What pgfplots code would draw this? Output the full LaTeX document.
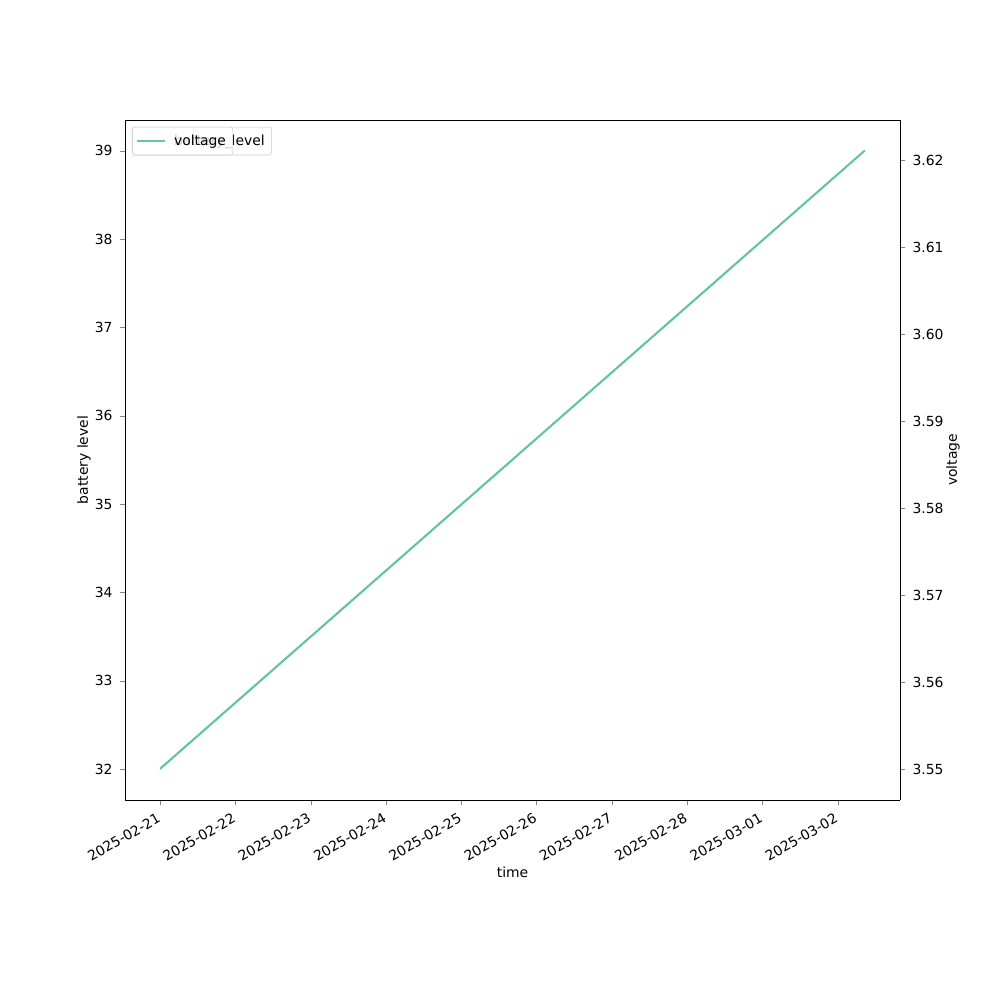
\documentclass[border=0pt]{standalone}
\usepackage{fontspec}
\setmainfont{DejaVu Sans}
\usepackage{pgfplots}
\pgfplotsset{compat=1.18}
\definecolor{sc}{HTML}{66C2A5}
\begin{document}
\begin{tikzpicture}
\path[use as bounding box] (0,0) rectangle (720pt,720pt);
\pgfplotsset{
  common/.style={
    scale only axis, width=558pt, height=489.6pt,
    at={(90pt,144pt)}, anchor=south west,
    xmin=-0.468, xmax=9.828,
    tick align=outside, major tick length=3.5pt,
    /pgf/number format/assume math mode=true,
    font=\fontsize{10}{12}\selectfont,
    tick label style={font=\fontsize{10}{12}\selectfont},
    label style={font=\fontsize{10}{12}\selectfont},
    legend image code/.code={\draw[#1] (0pt,0pt) -- (20pt,0pt);},
    legend cell align=left,
    legend style={at={(axis description cs:0.009,0.99)}, anchor=north west,
      draw=black!20, rounded corners=2pt, fill=white, fill opacity=0.8, text opacity=1,
      inner xsep=3pt, inner ysep=3.5pt,
      /tikz/every odd column/.append style={column sep=4pt},
      font=\fontsize{10}{12}\selectfont},
  },
}
\begin{axis}[common,
  ymin=31.65, ymax=39.35,
  ytick={32,33,34,35,36,37,38,39},
  xtick={0,1,2,3,4,5,6,7,8,9},
  xtick pos=bottom,
  xticklabels={2025-02-21,2025-02-22,2025-02-23,2025-02-24,2025-02-25,2025-02-26,2025-02-27,2025-02-28,2025-03-01,2025-03-02},
  xticklabel style={rotate=30, anchor=north east, inner sep=1pt, yshift=-2pt, xshift=-4pt},
  yticklabel style={xshift=-2pt},
  axis y line*=left,
  xlabel={time}, ylabel={battery level},
  xlabel style={at={(axis description cs:0.5,-0.107)}, anchor=center},
  ylabel style={at={(axis description cs:-0.0529,0.5)}, anchor=center},
]
\addplot[sc, line width=1.1pt] coordinates {(0,32) (9.36,39)};
\addlegendentry{battery\_level}
\end{axis}
\begin{axis}[common,
  ymin=3.54645, ymax=3.62467,
  ytick={3.55,3.56,3.57,3.58,3.59,3.60,3.61,3.62},
  yticklabel style={/pgf/number format/fixed, /pgf/number format/fixed zerofill, /pgf/number format/precision=2, xshift=2pt},
  axis y line*=right, axis x line=none,
  ylabel={voltage},
  ylabel style={at={(axis description cs:1.0684,0.5)}, anchor=center},
]
\addplot[sc, line width=1.1pt] coordinates {(0,3.5501) (9.36,3.6212)};
\addlegendentry{voltage}
\end{axis}
\end{tikzpicture}
\end{document}
